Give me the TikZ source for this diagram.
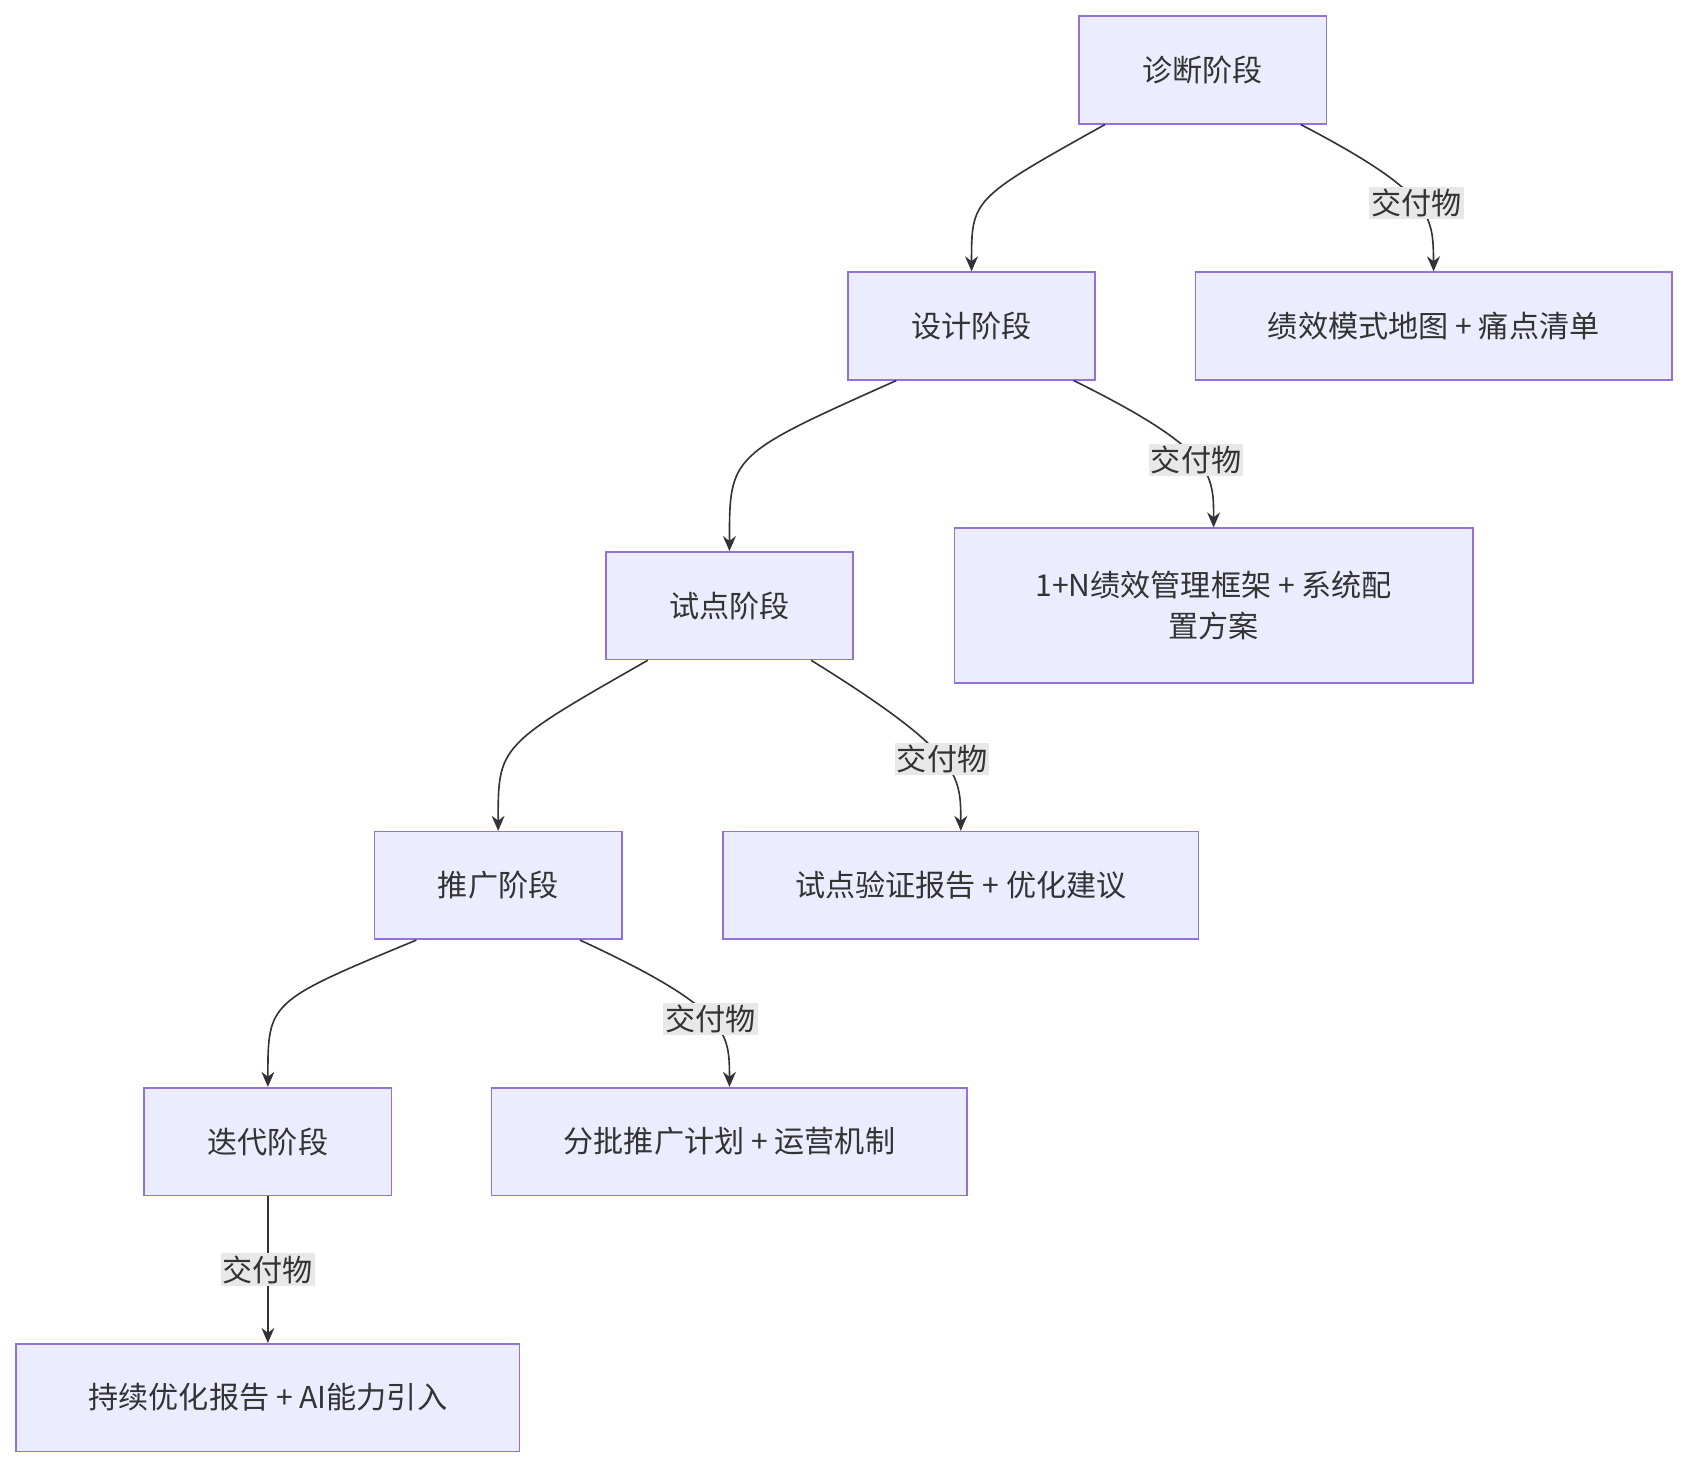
\documentclass[tikz,border=0pt]{standalone}
\usepackage{fontspec}
\setmainfont{Noto Sans CJK SC}
\usetikzlibrary{arrows.meta,calc}
\definecolor{nf}{HTML}{ECECFF}
\definecolor{nd}{HTML}{9370DB}
\definecolor{ln}{HTML}{333333}
\definecolor{lb}{HTML}{E8E8E8}
\begin{document}
\begin{tikzpicture}[x=0.5pt,y=-0.5pt,
  box/.style={draw=nd,fill=nf,line width=0.75pt,minimum height=50pt,font=\fontsize{14}{19}\selectfont,text=ln,align=center,inner sep=0pt},
  lab/.style={fill=lb,font=\fontsize{14}{16}\selectfont,text=ln,inner sep=1pt},
  ed/.style={draw=ln,line width=0.75pt,-{Stealth[length=7pt,width=6pt]}}]
\useasboundingbox (0,0) rectangle (1568,1365);
\node[box,minimum width=115pt] (d1) at (1118,65) {诊断阶段};
\node[box,minimum width=115pt] (d2) at (903,303) {设计阶段};
\node[box,minimum width=221.5pt] (o1) at (1332.5,303) {绩效模式地图 + 痛点清单};
\node[box,minimum width=115pt] (d3) at (678,563) {试点阶段};
\node[box,minimum width=241pt,minimum height=72pt] (o2) at (1128,563) {1+N绩效管理框架 + 系统配\\置方案};
\node[box,minimum width=115pt] (d4) at (463,823) {推广阶段};
\node[box,minimum width=221pt] (o3) at (893,823) {试点验证报告 + 优化建议};
\node[box,minimum width=115pt] (d5) at (249,1061) {迭代阶段};
\node[box,minimum width=221pt] (o4) at (678,1061) {分批推广计划 + 运营机制};
\node[box,minimum width=234pt] (o5) at (249,1299) {持续优化报告 + AI能力引入};
% main chain
\draw[ed] ([xshift=-45.5pt]d1.south) .. controls (903,185) .. (d2.north);
\draw[ed] ([xshift=-35pt]d2.south) .. controls (678,423) .. (d3.north);
\draw[ed] ([xshift=-38pt]d3.south) .. controls (463,693) .. (d4.north);
\draw[ed] ([xshift=-38pt]d4.south) .. controls (249,931) .. (d5.north);
% deliverables
\draw[ed] ([xshift=45.5pt]d1.south) .. controls (1332,180) and (1332,200) .. (o1.north) node[lab,pos=0.5] (l1) {交付物};
\draw[ed] ([xshift=47.5pt]d2.south) .. controls (1128,418) and (1128,440) .. (o2.north) node[lab,pos=0.5] (l2) {交付物};
\draw[ed] ([xshift=38pt]d3.south) .. controls (893,700) and (893,720) .. (o3.north) node[lab,pos=0.5] (l3) {交付物};
\draw[ed] ([xshift=38pt]d4.south) .. controls (678,938) and (678,960) .. (o4.north) node[lab,pos=0.5] (l4) {交付物};
\draw[ed] (d5.south) -- (o5.north) node[lab,midway] (l5) {交付物};
\end{tikzpicture}
\end{document}
